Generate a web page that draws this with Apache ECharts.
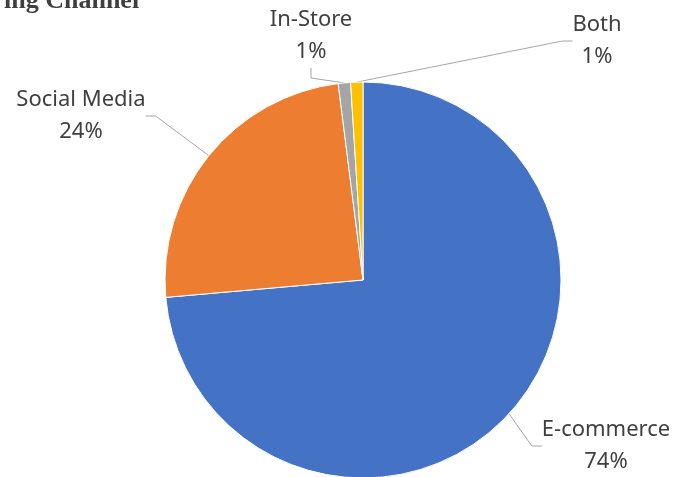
<!DOCTYPE html>
<html>
<head>
<meta charset="utf-8">
<script src="https://cdn.jsdelivr.net/npm/echarts@6/dist/echarts.min.js"></script>
<style>
html,body{margin:0;padding:0;background:#fff;}
#chart{width:677px;height:477px;}
</style>
</head>
<body>
<div id="chart"></div>
<script>
var titleText = 'ing Channel';
var categories = ['E-commerce', 'Social Media', 'In-Store', 'Both'];
var values = [73.6, 24.4, 1.0, 1.0];
var colors = ['#4472C4', '#ED7D31', '#A5A5A5', '#FFC000'];
var labelPos = [[606, 446], [81, 116], [311, 36], [597, 41]];

var chart = echarts.init(document.getElementById('chart'), null, {renderer: 'canvas'});
var data = categories.map(function (c, i) {
  return {name: c, value: values[i], itemStyle: {color: colors[i]}};
});
chart.setOption({
  animation: false,
  title: {
    text: titleText,
    left: -1,
    top: -17,
    textStyle: {fontFamily: 'Liberation Serif', fontWeight: 'bold', fontSize: 26, color: '#3f3f3f'}
  },
  series: [{
    type: 'pie',
    center: [363, 280],
    radius: 198,
    startAngle: 90,
    clockwise: true,
    data: data,
    itemStyle: {borderColor: '#fff', borderWidth: 1},
    label: {
      show: true,
      position: 'outside',
      formatter: function (p) { return p.name + '\n' + Math.round(p.percent) + '%'; },
      fontFamily: 'Noto Sans',
      fontSize: 22,
      lineHeight: 32,
      color: '#404040',
      align: 'center'
    },
    labelLine: {show: true, length: 10, length2: 10, smooth: false, lineStyle: {color: '#A6A6A6', width: 1}},
    labelLayout: function (p) {
      var pos = labelPos[p.dataIndex];
      return {x: pos[0], y: pos[1], align: 'center', verticalAlign: 'middle'};
    }
  }]
});
</script>
</body>
</html>
